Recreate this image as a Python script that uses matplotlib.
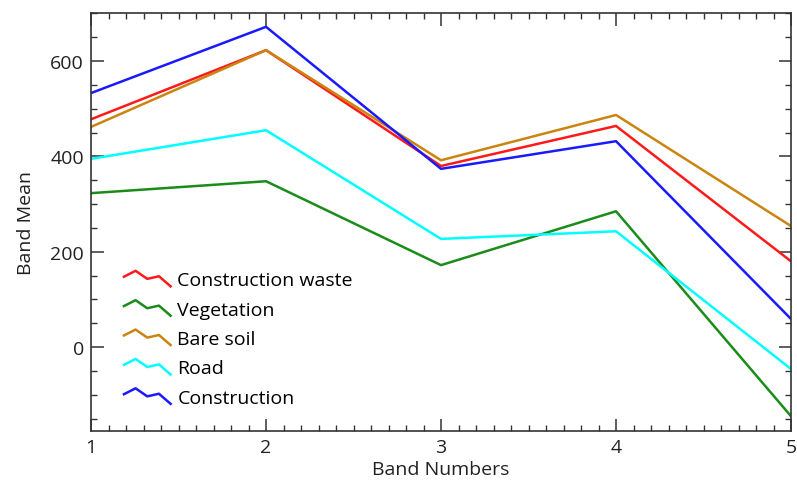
import numpy as np
import matplotlib
matplotlib.use("Agg")
import matplotlib.pyplot as plt
from matplotlib.legend_handler import HandlerBase
from matplotlib.lines import Line2D
from matplotlib.ticker import MultipleLocator

bands = [1, 2, 3, 4, 5]
construction_waste = [478, 623, 380, 464, 180]
vegetation = [323, 348, 172, 285, -145]
bare_soil = [462, 623, 392, 487, 254]
road = [395, 455, 227, 243, -46]
construction = [533, 672, 374, 432, 59]

names = ["Construction waste", "Vegetation", "Bare soil", "Road", "Construction"]
colors = ["#ff1a1a", "#1a8c1a", "#cc8411", "#00ffff", "#1a1aff"]


class Zigzag(HandlerBase):
    def create_artists(self, legend, orig_handle, xdescent, ydescent,
                       width, height, fontsize, trans):
        xs = np.array([0, 0.25, 0.5, 0.75, 1.0]) * width - xdescent
        ys = np.array([0.62, 1.0, 0.48, 0.65, 0.0]) * height - ydescent
        ln = Line2D(xs, ys, color=orig_handle.get_color(),
                    lw=orig_handle.get_linewidth())
        ln.set_transform(trans)
        return [ln]


plt.rcParams["font.family"] = ["Open Sans", "DejaVu Sans"]
fs = 14
fig = plt.figure(figsize=(7.97, 4.81), dpi=100)
ax = fig.add_axes([0.1142, 0.1019, 0.8783, 0.869])

series = [construction_waste, vegetation, bare_soil, road, construction]
lines = []
for name, vals, c in zip(names, series, colors):
    ln, = ax.plot(bands, vals, color=c, lw=1.8, label=name)
    lines.append(ln)

ax.set_xlim(1, 5)
ax.set_ylim(-176, 701)
ax.xaxis.set_major_locator(MultipleLocator(1))
ax.xaxis.set_minor_locator(MultipleLocator(0.1))
ax.yaxis.set_major_locator(MultipleLocator(200))
ax.yaxis.set_minor_locator(MultipleLocator(50))
ax.tick_params(which="both", direction="in", top=True, right=True,
               labelsize=fs, color="#333333", labelcolor="#222222")
ax.tick_params(which="major", length=9, width=1.1, pad=5)
ax.tick_params(which="minor", length=4.5, width=1)
for s in ax.spines.values():
    s.set_color("#333333")
    s.set_linewidth(1.2)

ax.set_xlabel("Band Numbers", fontsize=fs, color="#222222", labelpad=3)
ax.set_ylabel("Band Mean", fontsize=fs, color="#222222", labelpad=11)

ax.legend(handles=lines, handler_map={Line2D: Zigzag()}, frameon=False,
          loc="lower left", bbox_to_anchor=(0.022, 0.016), fontsize=fs,
          handlelength=2.4, handleheight=0.85, labelspacing=0.56,
          handletextpad=0.35, borderpad=0.4)

fig.savefig("out.png", dpi=100)
